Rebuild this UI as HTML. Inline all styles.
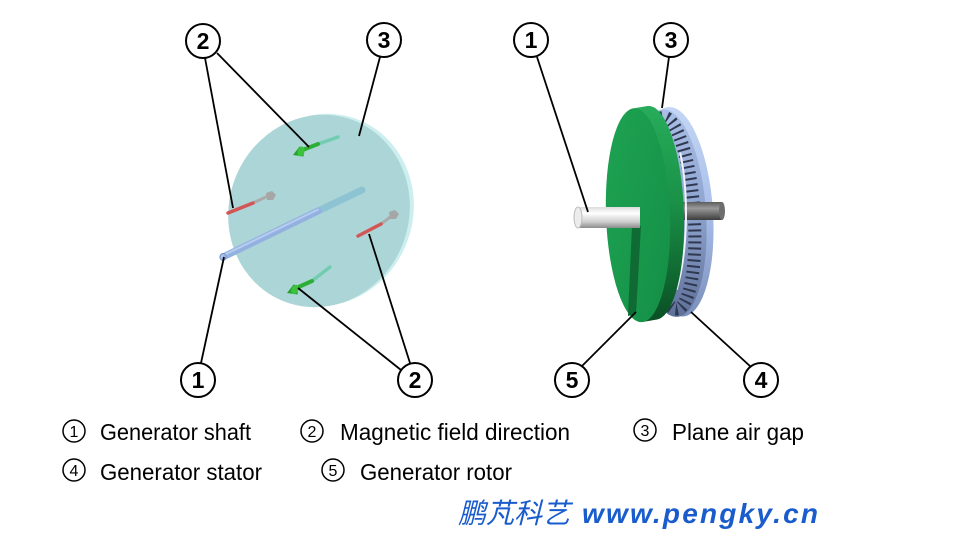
<!DOCTYPE html>
<html><head><meta charset="utf-8"><style>
html,body{margin:0;padding:0;background:#fff;}
svg{display:block;}
</style></head><body>
<svg width="960" height="540" viewBox="0 0 960 540" xmlns="http://www.w3.org/2000/svg">
<defs>
<linearGradient id="stat" x1="0" y1="0" x2="0" y2="1">
<stop offset="0" stop-color="#a9bfe6"/><stop offset="0.5" stop-color="#8ea3cf"/><stop offset="1" stop-color="#5f7199"/>
</linearGradient>
<linearGradient id="statRim" x1="0" y1="0" x2="0" y2="1">
<stop offset="0" stop-color="#c4d6f4"/><stop offset="0.5" stop-color="#aac0ea"/><stop offset="1" stop-color="#7a8fba"/>
</linearGradient>
<linearGradient id="rim" x1="0" y1="0" x2="0" y2="1">
<stop offset="0" stop-color="#27ad5b"/><stop offset="0.45" stop-color="#1a9147"/><stop offset="1" stop-color="#0a4f24"/>
</linearGradient>
<linearGradient id="face" x1="0" y1="0" x2="1" y2="1">
<stop offset="0" stop-color="#1ea352"/><stop offset="1" stop-color="#148f46"/>
</linearGradient>
<linearGradient id="wshaft" x1="0" y1="0" x2="0" y2="1">
<stop offset="0" stop-color="#dcdcdc"/><stop offset="0.3" stop-color="#ffffff"/><stop offset="0.7" stop-color="#cfcfcf"/><stop offset="1" stop-color="#8c8c8c"/>
</linearGradient>
<linearGradient id="dshaft" x1="0" y1="0" x2="0" y2="1">
<stop offset="0" stop-color="#5c5c5c"/><stop offset="0.35" stop-color="#9a9a9a"/><stop offset="1" stop-color="#3c3c3c"/>
</linearGradient>
</defs>

<!-- LEFT DIAGRAM: plane air gap disc -->
<ellipse cx="323" cy="210" rx="90" ry="97" transform="rotate(20 323 210)" fill="#cdeeee"/>
<ellipse cx="319" cy="211" rx="90" ry="97" transform="rotate(20 319 211)" fill="#acd5d7"/>

<!-- shaft -->
<line x1="318" y1="211" x2="362" y2="190" stroke="#8ec3d3" stroke-width="7" stroke-linecap="round"/>
<line x1="223" y1="257" x2="318" y2="211" stroke="#93b1e0" stroke-width="7" stroke-linecap="round"/>
<line x1="224" y1="255" x2="318" y2="209.5" stroke="#b6cdf0" stroke-width="2" stroke-linecap="round"/>
<ellipse cx="223" cy="257" rx="3" ry="3.5" fill="#a9c2ea" stroke="#6f8fc4" stroke-width="1"/>

<!-- green arrow top -->
<line x1="318" y1="144" x2="338" y2="137" stroke="#72cdb0" stroke-width="3.5" stroke-linecap="round"/>
<line x1="300" y1="151" x2="318" y2="144" stroke="#2fae36" stroke-width="4" stroke-linecap="round"/>
<path d="M293 155 L299.6 146.5 Q304 147 304 152 L303.5 156.5 Z" fill="#22a22a"/>
<ellipse cx="301" cy="151.5" rx="3.5" ry="5" transform="rotate(20 301 151.5)" fill="#3cc23c"/>
<!-- green arrow bottom -->
<line x1="312" y1="281" x2="330" y2="267" stroke="#72cdb0" stroke-width="3.5" stroke-linecap="round"/>
<line x1="294" y1="289" x2="312" y2="281" stroke="#2fae36" stroke-width="4" stroke-linecap="round"/>
<path d="M287 293 L293.6 284.5 Q298 285 298 290 L297.5 294.5 Z" fill="#22a22a"/>
<ellipse cx="295" cy="289.5" rx="3.5" ry="5" transform="rotate(30 295 289.5)" fill="#3cc23c"/>

<!-- red/grey arrow left -->
<line x1="253" y1="203" x2="268" y2="196" stroke="#ababab" stroke-width="3" stroke-linecap="round"/>
<line x1="228" y1="213" x2="253" y2="203" stroke="#d45555" stroke-width="3.5" stroke-linecap="round"/>
<path d="M266 193 L272 191 L276 195 L273 200 L267 200 Z" fill="#a6a6a6"/>
<!-- red/grey arrow right -->
<line x1="381" y1="224" x2="393" y2="215" stroke="#ababab" stroke-width="3" stroke-linecap="round"/>
<line x1="358" y1="236" x2="381" y2="224" stroke="#d45555" stroke-width="3.5" stroke-linecap="round"/>
<path d="M389 212 L395 210 L399 214 L396 219 L390 219 Z" fill="#a6a6a6"/>

<!-- RIGHT DIAGRAM -->
<!-- stator -->
<g transform="rotate(-4 672 213)">
<ellipse cx="676" cy="212" rx="37" ry="105" fill="url(#statRim)"/>
<ellipse cx="670" cy="213" rx="36" ry="104" fill="url(#stat)"/>
<ellipse cx="670" cy="213" rx="24" ry="96" fill="none" stroke="#2f3850" stroke-width="13" stroke-dasharray="2 4"/>
</g>
<!-- dark shaft -->
<rect x="683" y="202" width="39" height="18" fill="url(#dshaft)"/>
<ellipse cx="722" cy="211" rx="3" ry="9" fill="#6e6e6e"/>
<!-- gap sliver -->
<path d="M680.2 152.6 A 32 107 0 0 1 676.6 289.7" fill="none" stroke="#eef2fa" stroke-width="2"/>

<!-- green rotor -->
<g transform="rotate(-2 645 215)">
<path d="M638 108 L652 106 A 32 107 0 0 1 652 320 L638 322 Z" fill="url(#rim)"/>
<ellipse cx="638" cy="215" rx="32" ry="107" fill="url(#face)"/>
</g>
<!-- dark stripe -->
<polygon points="632,226 641,226 636,314 628,316" fill="#0f6a33"/>
<!-- white shaft -->
<rect x="578" y="207" width="62" height="21" fill="url(#wshaft)"/>
<ellipse cx="578" cy="217.5" rx="4" ry="10.5" fill="#ececec" stroke="#bdbdbd" stroke-width="1"/>

<!-- LEADER LINES -->
<g stroke="#000" stroke-width="1.8" fill="none">
<line x1="205" y1="58" x2="233" y2="208"/>
<line x1="217" y1="53" x2="309" y2="147"/>
<line x1="380" y1="57" x2="359" y2="136"/>
<line x1="201" y1="363" x2="224" y2="257"/>
<line x1="401" y1="370" x2="298" y2="288"/>
<line x1="410" y1="363" x2="369" y2="234"/>
<line x1="537" y1="57" x2="588" y2="212"/>
<line x1="669" y1="57" x2="662" y2="108"/>
<line x1="582" y1="366" x2="636" y2="312"/>
<line x1="751" y1="367" x2="691" y2="312"/>
</g>

<!-- LABEL CIRCLES -->
<g font-family="Liberation Sans, Arial, sans-serif" font-weight="bold" font-size="23" text-anchor="middle">
<circle cx="203" cy="41" r="17" fill="#fff" stroke="#000" stroke-width="2"/><text x="203" y="49">2</text>
<circle cx="384" cy="40" r="17" fill="#fff" stroke="#000" stroke-width="2"/><text x="384" y="48">3</text>
<circle cx="198" cy="380" r="17" fill="#fff" stroke="#000" stroke-width="2"/><text x="198" y="388">1</text>
<circle cx="415" cy="380" r="17" fill="#fff" stroke="#000" stroke-width="2"/><text x="415" y="388">2</text>
<circle cx="531" cy="40" r="17" fill="#fff" stroke="#000" stroke-width="2"/><text x="531" y="48">1</text>
<circle cx="671" cy="40" r="17" fill="#fff" stroke="#000" stroke-width="2"/><text x="671" y="48">3</text>
<circle cx="572" cy="380" r="17" fill="#fff" stroke="#000" stroke-width="2"/><text x="572" y="388">5</text>
<circle cx="761" cy="380" r="17" fill="#fff" stroke="#000" stroke-width="2"/><text x="761" y="388">4</text>
</g>

<!-- LEGEND -->
<g font-family="Liberation Sans, Arial, sans-serif" font-size="16" text-anchor="middle" fill="#000">
<circle cx="74" cy="431" r="11" fill="none" stroke="#000" stroke-width="1.5"/><text x="74" y="437">1</text>
<circle cx="312" cy="431" r="11" fill="none" stroke="#000" stroke-width="1.5"/><text x="312" y="437">2</text>
<circle cx="645" cy="430" r="11" fill="none" stroke="#000" stroke-width="1.5"/><text x="645" y="436">3</text>
<circle cx="74" cy="470" r="11" fill="none" stroke="#000" stroke-width="1.5"/><text x="74" y="476">4</text>
<circle cx="333" cy="470" r="11" fill="none" stroke="#000" stroke-width="1.5"/><text x="333" y="476">5</text>
</g>
<g font-family="Liberation Sans, Arial, sans-serif" font-size="23" fill="#000">
<text x="100" y="440" textLength="151" lengthAdjust="spacingAndGlyphs">Generator shaft</text>
<text x="340" y="440" textLength="230" lengthAdjust="spacingAndGlyphs">Magnetic field direction</text>
<text x="672" y="440" textLength="132" lengthAdjust="spacingAndGlyphs">Plane air gap</text>
<text x="100" y="480" textLength="162" lengthAdjust="spacingAndGlyphs">Generator stator</text>
<text x="360" y="480" textLength="152" lengthAdjust="spacingAndGlyphs">Generator rotor</text>
</g>

<!-- WATERMARK -->
<text x="458" y="523" font-family="Liberation Sans, 'Noto Sans CJK SC', sans-serif" font-size="28" font-style="italic" fill="#1a5ccc" textLength="112" lengthAdjust="spacing">鹏芃科艺</text>
<text x="582" y="523" font-family="Liberation Sans, Arial, sans-serif" font-size="28" font-style="italic" font-weight="bold" fill="#1a5ccc" textLength="236" lengthAdjust="spacing">www.pengky.cn</text>
</svg>
</body></html>
